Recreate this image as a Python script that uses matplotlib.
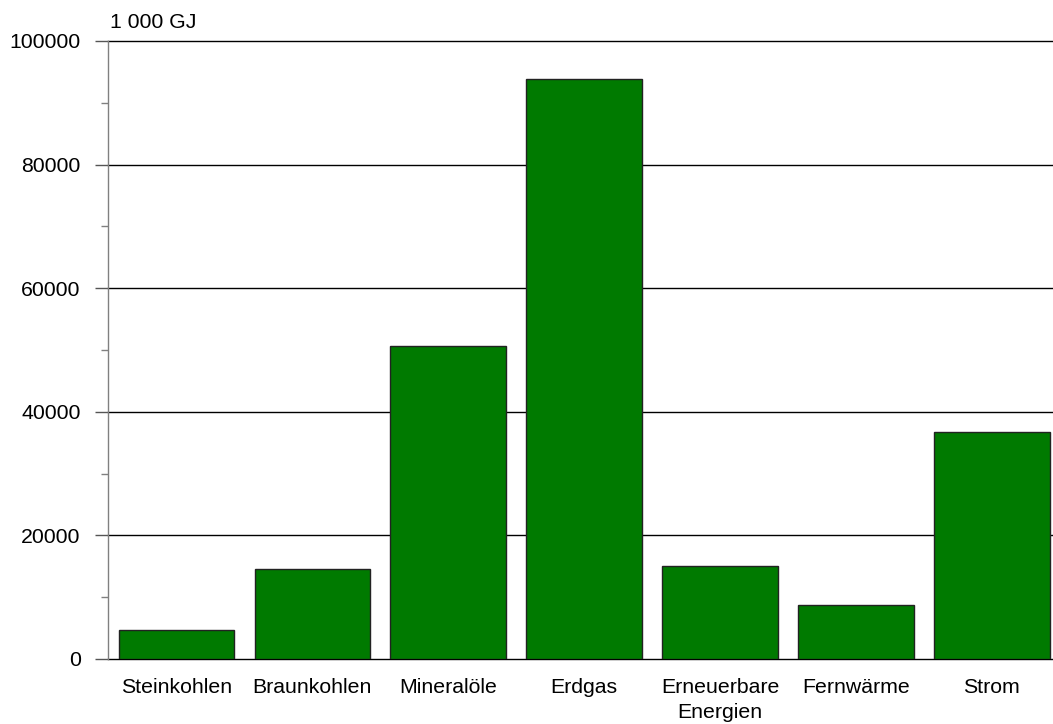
import matplotlib
matplotlib.use("Agg")
import matplotlib.pyplot as plt
from matplotlib.ticker import MultipleLocator

categories = ["Steinkohlen", "Braunkohlen", "Mineralöle", "Erdgas",
              "Erneuerbare\nEnergien", "Fernwärme", "Strom"]
values = [4700, 14600, 50700, 93900, 15100, 8800, 36800]
unit_label = "1 000 GJ"

plt.rcParams['font.family'] = ['Liberation Sans', 'DejaVu Sans']
fs = 15.3

W, H = 1053, 724
fig = plt.figure(figsize=(W / 100, H / 100), dpi=100)
left, right, top, bottom = 108.5, 1053, 41, 659
ax = fig.add_axes([left / W, 1 - bottom / H, (right - left) / W, (bottom - top) / H])

slot = 135.9
x = list(range(len(categories)))
ax.bar(x, values, width=0.85, color="#007a00", edgecolor="#222222", linewidth=1.0, zorder=3)

ax.set_xlim(-0.5, -0.5 + (right - left) / slot)
ax.set_ylim(0, 100000)
ax.yaxis.set_major_locator(MultipleLocator(20000))
ax.yaxis.set_minor_locator(MultipleLocator(10000))
ax.grid(axis='y', which='major', color='black', linewidth=1.0, zorder=1)
for gl in ax.get_ygridlines():
    gl.set_clip_on(False)
ax.set_xticks(x)
ax.set_xticklabels(categories, linespacing=1.38)
ax.tick_params(axis='x', length=0, pad=14, labelsize=fs)
ax.tick_params(axis='y', which='major', length=9.5, width=1, color='#555555', pad=10.5, labelsize=fs)
ax.tick_params(axis='y', which='minor', length=5, width=1, color='#808080')

for s in ['top', 'right', 'bottom']:
    ax.spines[s].set_visible(False)
ax.spines['left'].set_color('#808080')
ax.spines['left'].set_linewidth(1.0)

fig.text(110 / W, 1 - 22 / H, unit_label, ha='left', va='center', fontsize=fs)

fig.savefig("out.png", dpi=100)
